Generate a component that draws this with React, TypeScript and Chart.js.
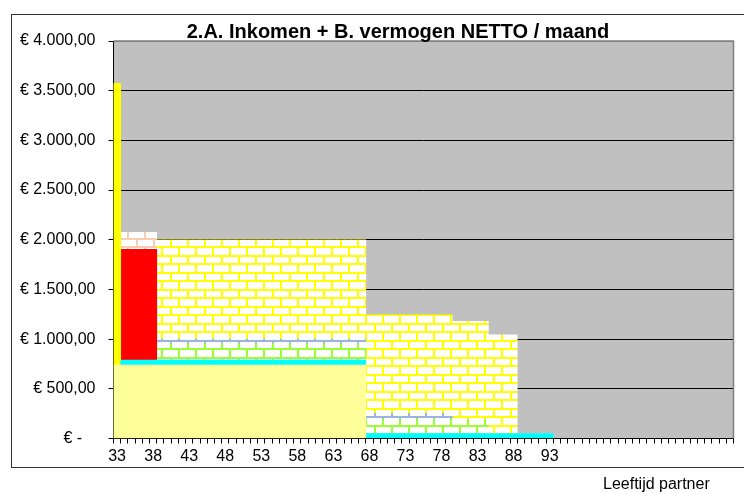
import React, { useEffect, useRef } from 'react';
import { Chart, registerables } from 'chart.js';

Chart.register(...registerables);

// ---------- data ----------
const FIRST_AGE = 33;
const LAST_AGE = 118;
const ages: number[] = [];
for (let a = FIRST_AGE; a <= LAST_AGE; a++) ages.push(a);

const xTickLabels = ['33', '38', '43', '48', '53', '58', '63', '68', '73', '78', '83', '88', '93'];
const yTickLabels = [
  '€ -   ', '€ 500,00', '€ 1.000,00', '€ 1.500,00', '€ 2.000,00',
  '€ 2.500,00', '€ 3.000,00', '€ 3.500,00', '€ 4.000,00',
];

const chartTitle = '2.A. Inkomen + B. vermogen NETTO / maand';
const xAxisTitle = 'Leeftijd partner';

// values per age, starting at 33 (rows: 33 | 34-38 | 39-67 | 68-79 | 80-84 | 85-88 | 89-93)
const lightYellowSeries = [
  740,
  740, 740, 740, 740, 740,
  740, 740, 740, 740, 740, 740, 740, 740, 740, 740,
  740, 740, 740, 740, 740, 740, 740, 740, 740, 740,
  740, 740, 740, 740, 740, 740, 740, 740, 740,
];

const cyanSeries = [
  null,
  50, 50, 50, 50, 50,
  50, 50, 50, 50, 50, 50, 50, 50, 50, 50,
  50, 50, 50, 50, 50, 50, 50, 50, 50, 50,
  50, 50, 50, 50, 50, 50, 50, 50, 50,
  50, 50, 50, 50, 50, 50, 50, 50, 50, 50, 50, 50,
  50, 50, 50, 50, 50,
  50, 50, 50, 50,
  50, 50, 50, 50, 50,
];

const brightYellowSeries = [2833];

const redSeries = [null, 1113, 1113, 1113, 1113, 1113];

const greenBrickSeries = [
  null,
  null, null, null, null, null,
  165, 165, 165, 165, 165, 165, 165, 165, 165, 165,
  165, 165, 165, 165, 165, 165, 165, 165, 165, 165,
  165, 165, 165, 165, 165, 165, 165, 165, 165,
  146, 146, 146, 146, 146, 146, 146, 146, 146, 146, 146, 146,
  146, 146, 146, 146, 146,
];

const blueBrickSeries = [
  null,
  null, null, null, null, null,
  45, 45, 45, 45, 45, 45, 45, 45, 45, 45,
  45, 45, 45, 45, 45, 45, 45, 45, 45, 45,
  45, 45, 45, 45, 45, 45, 45, 45, 45,
  57, 57, 57, 57, 57, 57, 57, 57, 57, 57, 57, 57,
];

const yellowBrickSeries = [
  null,
  null, null, null, null, null,
  1000, 1000, 1000, 1000, 1000, 1000, 1000, 1000, 1000, 1000,
  1000, 1000, 1000, 1000, 1000, 1000, 1000, 1000, 1000, 1000,
  1000, 1000, 1000, 1000, 1000, 1000, 1000, 1000, 1000,
  991, 991, 991, 991, 991, 991, 991, 991, 991, 991, 991, 991,
  983, 983, 983, 983, 983,
  993, 993, 993, 993,
];

const pinkBrickSeries = [null, 171, 171, 171, 171, 171];

// ---------- helpers ----------
const FONT = "'Liberation Sans', Arial, sans-serif";

function makeBrick(mortar: string): CanvasPattern | string {
  const w = 17;
  const h = 17;
  const c = document.createElement('canvas');
  c.width = w;
  c.height = h;
  const g = c.getContext('2d');
  if (!g) return mortar;
  g.fillStyle = '#FFFFFF';
  g.fillRect(0, 0, w, h);
  g.fillStyle = mortar;
  g.fillRect(0, 0, w, 2);
  g.fillRect(0, 8, w, 2);
  g.fillRect(0, 2, 2, 6);
  g.fillRect(8, 10, 2, 7);
  const p = g.createPattern(c, 'repeat');
  return p || mortar;
}

const decorPlugin = {
  id: 'decor',
  beforeDraw(chart: any) {
    const { ctx, chartArea } = chart;
    const { left, top, right, bottom } = chartArea;
    ctx.save();
    ctx.fillStyle = '#C0C0C0';
    ctx.fillRect(left, top, right - left, bottom - top);
    ctx.restore();
  },
  afterDraw(chart: any) {
    const { ctx, chartArea } = chart;
    const { left, top, right, bottom } = chartArea;
    ctx.save();
    // plot frame (top & right)
    ctx.strokeStyle = '#808080';
    ctx.lineWidth = 1.5;
    ctx.beginPath();
    ctx.moveTo(left, top);
    ctx.lineTo(right, top);
    ctx.lineTo(right, bottom);
    ctx.stroke();
    // outer chart border
    ctx.strokeStyle = '#333333';
    ctx.lineWidth = 1;
    ctx.strokeRect(11.5, 14.5, 800, 453);
    // title
    ctx.fillStyle = '#000000';
    ctx.font = `bold 20px ${FONT}`;
    ctx.textAlign = 'center';
    ctx.textBaseline = 'alphabetic';
    ctx.fillText(chartTitle, 398, 38);
    // x axis title
    ctx.font = `16px ${FONT}`;
    ctx.textAlign = 'left';
    ctx.fillText(xAxisTitle, 603, 489);
    ctx.restore();
  },
};

export default function App() {
  const ref = useRef<HTMLCanvasElement>(null);

  useEffect(() => {
    const canvas = ref.current;
    if (!canvas) return;

    const yellowBrick = makeBrick('#FFFF00');
    const greenBrick = makeBrick('#99FF33');
    const blueBrick = makeBrick('#99B4E0');
    const pinkBrick = makeBrick('#F9CDB0');

    const common = {
      borderWidth: 0,
      barPercentage: 1,
      categoryPercentage: 1,
    };

    const chart = new Chart(canvas, {
      type: 'bar',
      data: {
        labels: ages.map(String),
        datasets: [
          { label: 'a', data: lightYellowSeries, backgroundColor: '#FFFF99', ...common },
          { label: 'b', data: cyanSeries, backgroundColor: '#00FFFF', ...common },
          { label: 'c', data: brightYellowSeries, backgroundColor: '#FFFF00', ...common },
          { label: 'd', data: redSeries, backgroundColor: '#FF0000', ...common },
          { label: 'e', data: greenBrickSeries, backgroundColor: greenBrick, ...common },
          { label: 'f', data: blueBrickSeries, backgroundColor: blueBrick, ...common },
          { label: 'g', data: yellowBrickSeries, backgroundColor: yellowBrick, ...common },
          { label: 'h', data: pinkBrickSeries, backgroundColor: pinkBrick, ...common },
        ] as any,
      },
      options: {
        responsive: false,
        maintainAspectRatio: false,
        animation: false,
        devicePixelRatio: 1,
        layout: { padding: { left: 0, right: 10.5, top: 41, bottom: 0 } },
        plugins: {
          legend: { display: false },
          tooltip: { enabled: false },
          title: { display: false },
        },
        scales: {
          x: {
            stacked: true,
            offset: true,
            afterFit: (s: any) => { s.height = 55.5; },
            grid: {
              offset: true,
              drawOnChartArea: false,
              drawTicks: true,
              tickLength: 5,
              color: '#000000',
            },
            border: { display: true, color: '#000000', width: 1 },
            ticks: {
              autoSkip: false,
              maxRotation: 0,
              minRotation: 0,
              padding: 3,
              color: '#000000',
              font: { family: FONT, size: 16 },
              callback: (_v: any, i: number) => {
                const s = String(ages[i]);
                return xTickLabels.includes(s) ? s : '';
              },
            },
          },
          y: {
            stacked: true,
            min: 0,
            max: 4000,
            afterFit: (s: any) => { s.width = 113.5; },
            grid: {
              drawTicks: true,
              tickLength: 5,
              color: (c: any) => (c.tick && c.tick.value === 4000 ? '#808080' : '#000000'),
              tickColor: '#000000',
            },
            border: { display: true, color: '#000000', width: 1 },
            ticks: {
              stepSize: 500,
              padding: 13,
              color: '#000000',
              font: { family: FONT, size: 16 },
              callback: (v: any) => yTickLabels[Math.round(Number(v) / 500)] ?? '',
            },
          },
        },
      },
      plugins: [decorPlugin],
    });

    return () => chart.destroy();
  }, []);

  return (
    <div style={{ position: 'absolute', left: 0, top: 0, width: 744, height: 494, background: '#FFFFFF' }}>
      <canvas ref={ref} width={744} height={494} style={{ display: 'block', width: 744, height: 494 }} />
    </div>
  );
}
